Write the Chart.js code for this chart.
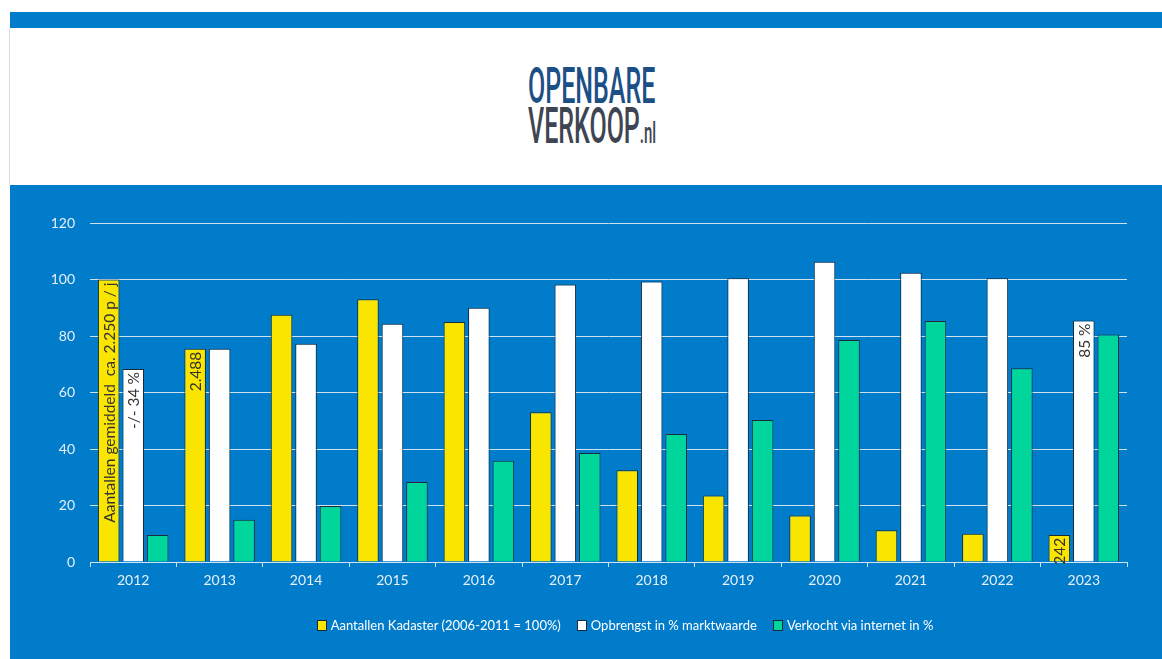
<!DOCTYPE html>
<html>
<head>
<meta charset="utf-8">
<script src="https://cdn.jsdelivr.net/npm/chart.js@4"></script>
<style>
  body { margin: 0; background: #fff; width: 1162px; height: 659px; overflow: hidden; position: relative; font-family: Lato, "Open Sans", sans-serif; }
  #topBand { position: absolute; left: 10px; top: 12px; width: 1152px; height: 16px; background: #007ccb; }
  #whiteBox { position: absolute; left: 9px; top: 28px; width: 1153px; height: 157px; border-left: 1px solid #ddd; box-sizing: border-box; }
  #panel { position: absolute; left: 10px; top: 185px; width: 1152px; height: 474px; background: #007ccb; }
  .logo { position: absolute; left: 528px; font-family: Roboto, sans-serif; font-size: 50px; line-height: 50px; transform-origin: 0 0; transform: scaleX(0.5); white-space: nowrap; }
  #logo1 { top: 61px; color: #1c4f86; font-weight: 500; }
  #logo2 { top: 101px; color: #3e4452; font-weight: 500; }
  #logo2 small { font-size: 30px; }
  #legend { position: absolute; left: 0; width: 1162px; top: 617px; text-align: center; padding-left: 88px; box-sizing: border-box; font-size: 13px; color: #fff; }
  #legend span.item { margin: 0 8px; white-space: nowrap; }
  #legend span.box { display: inline-block; width: 8px; height: 9px; border: 1px solid #1b2a38; margin-right: 4px; vertical-align: -1px; }
</style>
</head>
<body>
<div id="topBand"></div>
<div id="whiteBox"></div>
<div id="logo1" class="logo">OPENBARE</div>
<div id="logo2" class="logo">VERKOOP<small>.nl</small></div>
<div id="panel"><canvas id="chart" width="1152" height="474"></canvas></div>
<div id="legend"></div>
<script>
const years = ["2012", "2013", "2014", "2015", "2016", "2017", "2018", "2019", "2020", "2021", "2022", "2023"];
const seriesNames = ["Aantallen Kadaster (2006-2011 = 100%)", "Opbrengst in % marktwaarde", "Verkocht via internet in %"];
const aantallen = [100, 75.5, 87.5, 93, 85, 53, 32.5, 23.5, 16.5, 11.2, 10, 9.6];
const opbrengst = [68.3, 75.5, 77.3, 84.3, 90, 98.2, 99.3, 100.4, 106.3, 102.4, 100.4, 85.5];
const internet = [9.6, 15, 19.8, 28.3, 35.8, 38.6, 45.3, 50.3, 78.6, 85.3, 68.6, 80.5];
const aantallenNotes = ["Aantallen gemiddeld  ca. 2.250 p / j", "2.488", "", "", "", "", "", "", "", "", "", "242"];
const opbrengstNotes = ["-/- 34 %", "", "", "", "", "", "", "", "", "", "", "85 %"];
const yTicks = [0, 20, 40, 60, 80, 100, 120];
const colors = ["#fae500", "#ffffff", "#00d59b"];

const notes = [aantallenNotes, opbrengstNotes, []];

// tekst verticaal in de balken
const barNotes = {
    id: "barNotes",
    afterDatasetsDraw(chart) {
        const ctx = chart.ctx;
        ctx.save();
        ctx.font = "15.5px Lato, 'Open Sans', sans-serif";
        ctx.fillStyle = "#333333";
        ctx.textAlign = "right";
        ctx.textBaseline = "middle";
        notes.forEach((list, di) => {
            const meta = chart.getDatasetMeta(di);
            list.forEach((txt, i) => {
                if (!txt) return;
                const bar = meta.data[i];
                ctx.save();
                ctx.translate(bar.x + 1, bar.y + 3);
                ctx.rotate(-Math.PI / 2);
                ctx.fillText(txt, 0, 0);
                ctx.restore();
            });
        });
        ctx.restore();
    }
};

const ctx = document.getElementById("chart").getContext("2d");
new Chart(ctx, {
    type: "bar",
    data: {
        labels: years,
        datasets: [aantallen, opbrengst, internet].map((d, i) => ({
            label: seriesNames[i],
            data: d,
            backgroundColor: colors[i],
            borderColor: "#1b2a38",
            borderWidth: 1,
            categoryPercentage: 0.85,
            barPercentage: 0.88
        }))
    },
    options: {
        responsive: false,
        animation: false,
        layout: { padding: { left: 0, right: 35, top: 38, bottom: 0 } },
        plugins: { legend: { display: false }, tooltip: { enabled: false } },
        scales: {
            x: {
                afterFit: (s) => { s.height = 97; },
                grid: { drawOnChartArea: false, drawTicks: true, tickLength: 5, color: "#cfe2f2", offset: true },
                border: { color: "#cfe2f2", width: 1 },
                ticks: { color: "#e8f0f8", font: { family: "Lato", size: 14 }, padding: 5 }
            },
            y: {
                min: 0, max: 120,
                afterFit: (s) => { s.width = 80; },
                afterBuildTicks: (s) => { s.ticks = yTicks.map(v => ({ value: v })); },
                grid: { color: "#cfe2f2", drawTicks: false },
                border: { display: false },
                ticks: { color: "#e8f0f8", font: { family: "Lato", size: 14 }, padding: 15 }
            }
        }
    },
    plugins: [barNotes]
});

// legenda
const legend = document.getElementById("legend");
seriesNames.forEach((name, i) => {
    const item = document.createElement("span");
    item.className = "item";
    item.innerHTML = `<span class="box" style="background:${colors[i]}"></span>${name}`;
    legend.appendChild(item);
});
</script>
</body>
</html>
